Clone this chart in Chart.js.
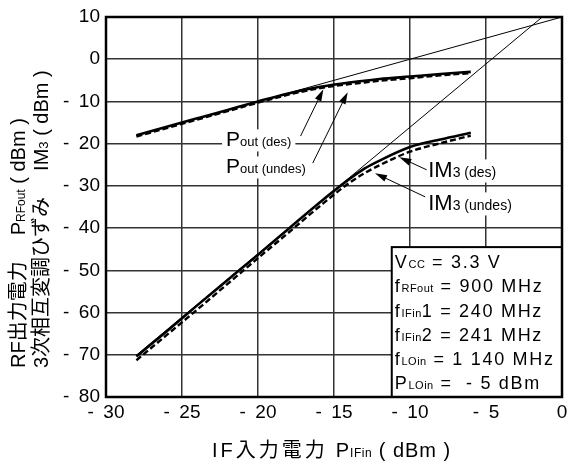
<!DOCTYPE html>
<html>
<head>
<meta charset="utf-8">
<script src="https://cdn.jsdelivr.net/npm/chart.js@4"></script>
<style>
  body { margin: 0; background: #fff; }
  canvas { display: block; }
</style>
</head>
<body>
<canvas id="chart" width="568" height="464"></canvas>
<script>
// IF input power (dBm) where the curves were read
const inputPower = [-28, -26, -24, -22, -20, -18, -16, -14, -13, -12, -10, -8, -6];
const poutDes = [-18.0, -16.0, -14.0, -12.0, -10.0, -8.1, -6.6, -5.5, -5.1, -4.7, -4.1, -3.5, -3.0];
const poutUndes = [-18.3, -16.3, -14.3, -12.3, -10.3, -8.4, -6.9, -5.9, -5.5, -5.1, -4.5, -3.8, -3.3];
const im3Des = [-70.4, -64.4, -58.3, -52.3, -46.3, -40.2, -34.1, -28.4, -25.9, -24.0, -20.8, -19.0, -17.4];
const im3Undes = [-71.3, -65.3, -59.3, -53.2, -47.1, -41.1, -35.0, -29.3, -27.0, -25.1, -21.9, -19.9, -18.1];

// thin extrapolation lines
const poutExtX = [-28, 0];
const poutExtY = [-18, 10];
const im3ExtX = [-28, -1.3];
const im3ExtY = [-70.1, 10];

const xTicks = [-30, -25, -20, -15, -10, -5, 0];
const yTicks = [10, 0, -10, -20, -30, -40, -50, -60, -70, -80];

const FONT = '"Liberation Sans", "Noto Sans CJK JP", sans-serif';

function pts(xs, ys) {
  return xs.map((x, i) => ({ x: x, y: ys[i] }));
}

function fmt(v) {
  return v < 0 ? "-\u2002" + Math.abs(v) : String(v);
}

// draw a run of text pieces [text, size, spacing] along a baseline
function drawRich(ctx, x, y, segs) {
  let cx = x;
  segs.forEach((s) => {
    ctx.font = s[1] + "px " + FONT;
    ctx.letterSpacing = (s[2] || 0) + "px";
    ctx.fillText(s[0], cx, y);
    cx += ctx.measureText(s[0]).width;
  });
  ctx.letterSpacing = "0px";
  return cx - x;
}

function arrow(ctx, x1, y1, x2, y2) {
  const a = Math.atan2(y2 - y1, x2 - x1);
  const len = 12, hw = 3.5;
  ctx.beginPath();
  ctx.moveTo(x1, y1);
  ctx.lineTo(x2 - Math.cos(a) * len * 0.8, y2 - Math.sin(a) * len * 0.8);
  ctx.lineWidth = 1;
  ctx.stroke();
  ctx.beginPath();
  ctx.moveTo(x2, y2);
  ctx.lineTo(x2 - Math.cos(a) * len - Math.sin(a) * hw, y2 - Math.sin(a) * len + Math.cos(a) * hw);
  ctx.lineTo(x2 - Math.cos(a) * len + Math.sin(a) * hw, y2 - Math.sin(a) * len - Math.cos(a) * hw);
  ctx.closePath();
  ctx.fill();
}

// curve labels: left/baseline position in data units, arrow from -> tip in data units
const labels = [
  { x: -22.1, y: -20.6, big: "P", small: "out (des)", bs: 21, ss: 13, from: [-17.2, -18.2], tip: [-15.7, -7.1] },
  { x: -22.1, y: -27.0, big: "P", small: "out (undes)", bs: 21, ss: 13, from: [-16.4, -24.6], tip: [-14.1, -7.8] },
  { x: -8.8, y: -27.9, big: "IM", small: "3 (des)", bs: 22, ss: 14, from: [-8.9, -26.2], tip: [-10.7, -23.2] },
  { x: -8.8, y: -35.7, big: "IM", small: "3 (undes)", bs: 22, ss: 14, from: [-9.0, -32.6], tip: [-12.3, -27.0] }
];

const boxLines = [
  [["V", 18, 1.7], ["CC", 11, 0.5], [" = 3.3 V", 18, 1.7]],
  [["f", 18, 1.7], ["RFout", 11, 0.5], [" = 900 MHz", 18, 1.7]],
  [["f", 18, 1.7], ["IFin", 11, 0.5], ["1 = 240 MHz", 18, 1.7]],
  [["f", 18, 1.7], ["IFin", 11, 0.5], ["2 = 241 MHz", 18, 1.7]],
  [["f", 18, 1.7], ["LOin", 11, 0.5], [" = 1 140 MHz", 18, 1.7]],
  [["P", 18, 1.7], ["LOin", 11, 0.5], [" =  - 5 dBm", 18, 1.7]]
];
const infoBox = { x: -11.2, y: -44.5 };

const decor = {
  id: "decor",
  afterDatasetsDraw(chart) {
    const ctx = chart.ctx;
    const xs = chart.scales.x, ys = chart.scales.y;
    const a = chart.chartArea;
    ctx.save();
    ctx.fillStyle = "#000";
    ctx.strokeStyle = "#000";
    ctx.textBaseline = "alphabetic";

    // labels with white background
    labels.forEach((l) => {
      const px = xs.getPixelForValue(l.x), py = ys.getPixelForValue(l.y);
      ctx.font = l.bs + "px " + FONT;
      let w = ctx.measureText(l.big).width;
      ctx.font = l.ss + "px " + FONT;
      w += ctx.measureText(l.small).width;
      ctx.fillStyle = "#fff";
      ctx.fillRect(px - 4, py - l.bs * 0.8, w + 8, l.bs * 1.05);
      ctx.fillStyle = "#000";
      drawRich(ctx, px, py, [[l.big, l.bs], [l.small, l.ss]]);
      arrow(ctx, xs.getPixelForValue(l.from[0]), ys.getPixelForValue(l.from[1]),
        xs.getPixelForValue(l.tip[0]), ys.getPixelForValue(l.tip[1]));
    });

    // conditions box
    const bx = xs.getPixelForValue(infoBox.x), by = ys.getPixelForValue(infoBox.y);
    ctx.fillStyle = "#fff";
    ctx.fillRect(bx, by, a.right - bx, a.bottom - by);
    ctx.lineWidth = 2;
    ctx.strokeRect(bx, by, a.right - bx, a.bottom - by);
    ctx.fillStyle = "#000";
    boxLines.forEach((line, i) => {
      drawRich(ctx, bx + 3, by + 21 + i * 24.2, line);
    });

    // plot frame
    ctx.lineWidth = 2.5;
    ctx.strokeRect(a.left, a.top, a.right - a.left, a.bottom - a.top);

    // y axis titles (rotated)
    ctx.save();
    ctx.translate(25, 368);
    ctx.rotate(-Math.PI / 2);
    let w = drawRich(ctx, 0, 0, [["RF出力電力", 20]]);
    drawRich(ctx, w + 26, 0, [["P", 20], ["RFout", 12], [" ( dBm )", 20]]);
    ctx.restore();
    ctx.save();
    ctx.translate(48, 368);
    ctx.rotate(-Math.PI / 2);
    w = drawRich(ctx, 0, 0, [["3次相互変調ひずみ", 20]]);
    drawRich(ctx, w + 26, 0, [["IM", 20], ["3", 13], [" ( dBm )", 20]]);
    ctx.restore();

    // x axis title
    w = drawRich(ctx, 212, 457, [["IF入力電力", 20, 3]]);
    drawRich(ctx, 212 + w + 8, 457, [["P", 20, 1], ["IFin", 12, 0.5], [" ( dBm )", 20, 1]]);

    ctx.restore();
  }
};

const thin = { borderColor: "#000", borderWidth: 1, pointRadius: 0, fill: false };
const solid = { borderColor: "#000", borderWidth: 2.6, pointRadius: 0, fill: false, cubicInterpolationMode: "monotone" };
const dashed = { borderColor: "#000", borderWidth: 2.4, borderDash: [6, 3], pointRadius: 0, fill: false, cubicInterpolationMode: "monotone" };

new Chart(document.getElementById("chart"), {
  type: "line",
  data: {
    datasets: [
      Object.assign({ label: "Pout ext", data: pts(poutExtX, poutExtY) }, thin),
      Object.assign({ label: "IM3 ext", data: pts(im3ExtX, im3ExtY) }, thin),
      Object.assign({ label: "Pout (undes)", data: pts(inputPower, poutUndes) }, dashed),
      Object.assign({ label: "Pout (des)", data: pts(inputPower, poutDes) }, solid),
      Object.assign({ label: "IM3 (undes)", data: pts(inputPower, im3Undes) }, dashed),
      Object.assign({ label: "IM3 (des)", data: pts(inputPower, im3Des) }, solid)
    ]
  },
  options: {
    responsive: false,
    animation: false,
    devicePixelRatio: 1,
    layout: { padding: { left: 0, top: 17, right: 6, bottom: 0 } },
    plugins: { legend: { display: false }, tooltip: { enabled: false } },
    scales: {
      x: {
        type: "linear",
        min: -30,
        max: 0,
        afterBuildTicks: (s) => { s.ticks = xTicks.map((v) => ({ value: v })); },
        afterFit: (s) => { s.height = 67; s.paddingLeft = 0; s.paddingRight = 0; },
        ticks: { callback: fmt, color: "#000", font: { family: FONT, size: 19 }, padding: 4, maxRotation: 0, autoSkip: false },
        grid: { color: "#333", lineWidth: 1.5, drawTicks: false },
        border: { display: false }
      },
      y: {
        type: "linear",
        min: -80,
        max: 10,
        afterBuildTicks: (s) => { s.ticks = yTicks.map((v) => ({ value: v })); },
        afterFit: (s) => { s.width = 106; s.paddingTop = 0; s.paddingBottom = 0; },
        ticks: { callback: fmt, color: "#000", font: { family: FONT, size: 19 }, padding: 6, autoSkip: false },
        grid: { color: "#333", lineWidth: 1.5, drawTicks: false },
        border: { display: false }
      }
    }
  },
  plugins: [decor]
});
</script>
</body>
</html>
